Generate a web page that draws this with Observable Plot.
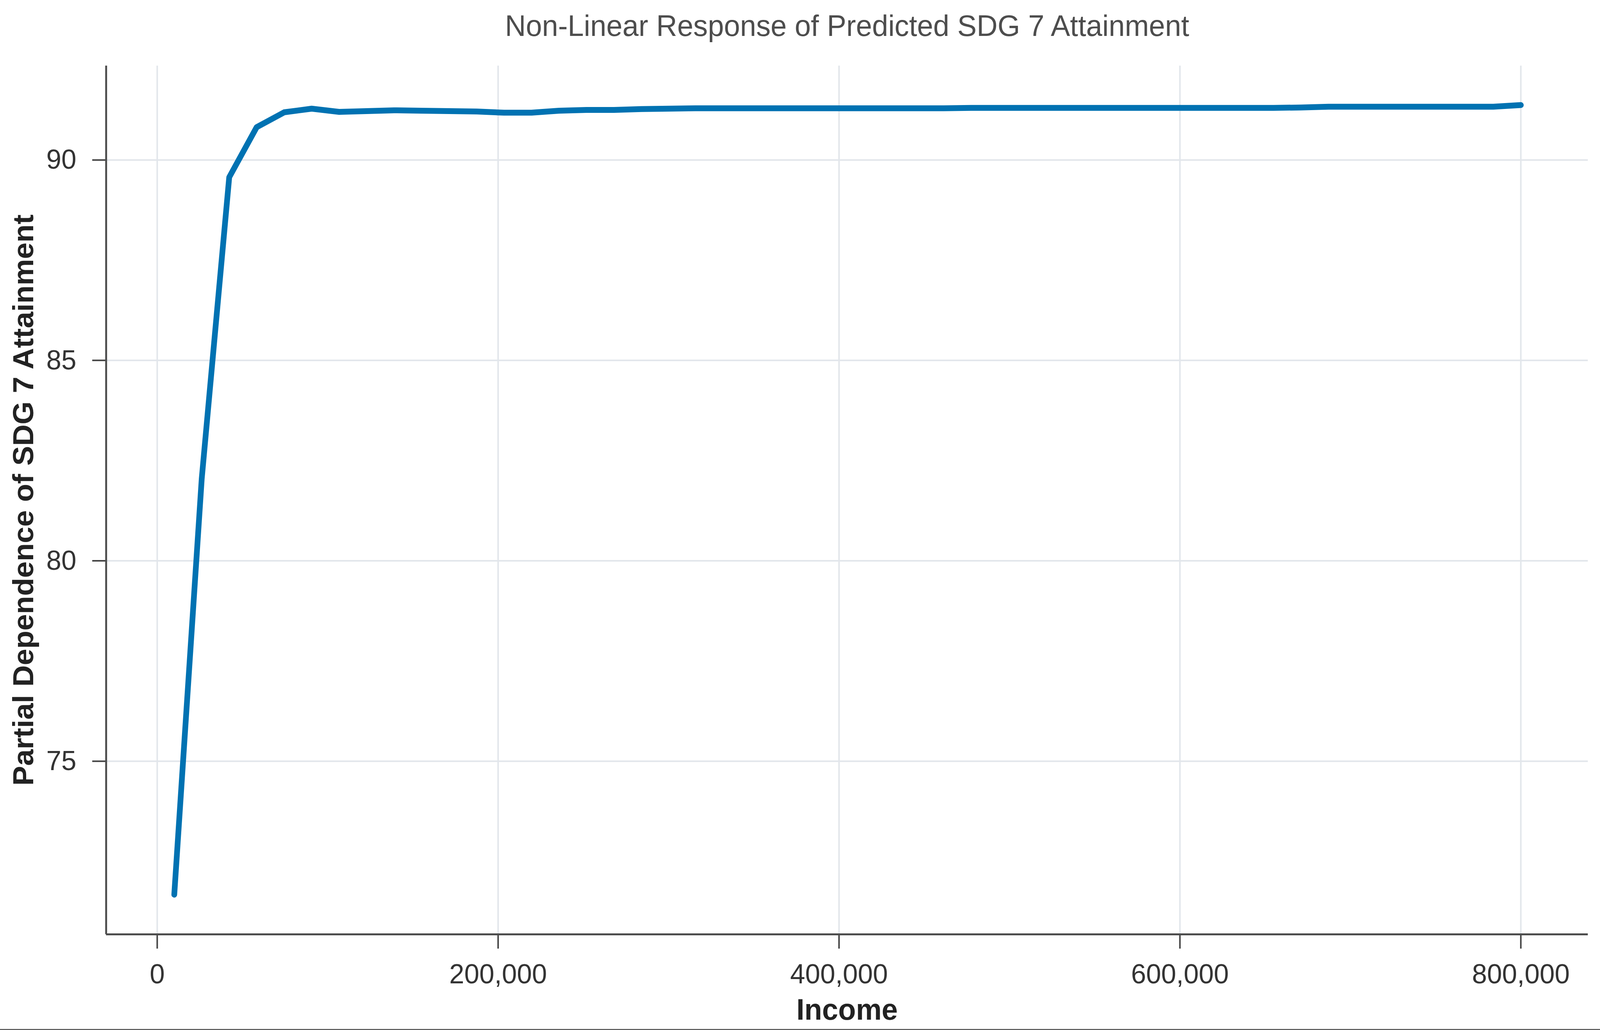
<!DOCTYPE html>
<html>
<head>
<meta charset="utf-8">
<script src="https://cdn.jsdelivr.net/npm/d3@7"></script>
<script src="https://cdn.jsdelivr.net/npm/@observablehq/plot@0.6"></script>
<style>
  html, body { margin: 0; padding: 0; background: #fff; overflow: hidden; width: 100vw; height: 100vh; }
  #chart { position: absolute; left: 0; top: 0; width: 100vw; height: 100vh; }
  #chart svg { display: block; }
  #bottomline { position: absolute; left: 0; bottom: calc(100vh * 3 / 2640); width: 100vw; height: calc(100vh * 2.5 / 2640); background: #222; }
</style>
</head>
<body>
<div id="chart"></div><div id="bottomline"></div>
<script>
const titleText = "Non-Linear Response of Predicted SDG 7 Attainment";
const xLabel = "Income";
const yLabel = "Partial Dependence of SDG 7 Attainment";

const income = [10000, 26122, 42245, 58367, 74490, 90612, 106735, 122857, 138980, 155102,
  171224, 187347, 203469, 219592, 235714, 251837, 267959, 284082, 300204, 316327,
  332449, 348571, 364694, 380816, 396939, 413061, 429184, 445306, 461429, 477551,
  493673, 509796, 525918, 542041, 558163, 574286, 590408, 606531, 622653, 638776,
  654898, 671020, 687143, 703265, 719388, 735510, 751633, 767755, 783878, 800000];

const attainment = [71.67, 82.05, 89.57, 90.82, 91.19, 91.28, 91.20, 91.22, 91.24, 91.23,
  91.22, 91.21, 91.18, 91.18, 91.23, 91.25, 91.25, 91.27, 91.28, 91.29,
  91.29, 91.29, 91.29, 91.29, 91.29, 91.29, 91.29, 91.29, 91.29, 91.30,
  91.30, 91.30, 91.30, 91.30, 91.30, 91.30, 91.30, 91.30, 91.30, 91.30,
  91.30, 91.31, 91.33, 91.33, 91.33, 91.33, 91.33, 91.33, 91.33, 91.37];

const xTicks = [0, 200000, 400000, 600000, 800000];
const yTicks = [75, 80, 85, 90];
const xDomain = [-29960, 839400];
const yDomain = [70.68, 92.35];

const data = income.map((x, i) => ({x, y: attainment[i]}));
const font = "'Liberation Sans', Arial, Helvetica, sans-serif";

// Design space of the reference image; the SVG is stretched to fill the viewport.
const W = 4198, H = 2640;
const chart = Plot.plot({
  width: W,
  height: H,
  marginTop: 168,
  marginBottom: 248,
  marginLeft: 278,
  marginRight: 32,
  style: {fontFamily: font, background: "#fff", overflow: "visible"},
  x: {domain: xDomain, ticks: xTicks},
  y: {domain: yDomain, ticks: yTicks},
  marks: [
    Plot.gridX(xTicks, {stroke: "#e2e6eb", strokeOpacity: 1, strokeWidth: 4}),
    Plot.gridY(yTicks, {stroke: "#e2e6eb", strokeOpacity: 1, strokeWidth: 4}),
    Plot.axisX(xTicks, {tickSize: 37, tickPadding: 38, tickFormat: d3.format(","), fontSize: 71, fill: "#333", stroke: "#444", strokeWidth: 4, label: null}),
    Plot.axisY(yTicks, {tickSize: 36, tickPadding: 42, tickFormat: d3.format("d"), fontSize: 71, fill: "#333", stroke: "#444", strokeWidth: 4, label: null}),
    Plot.ruleX([xDomain[0]], {stroke: "#4d4d4d", strokeWidth: 5}),
    Plot.ruleY([yDomain[0]], {stroke: "#4d4d4d", strokeWidth: 5}),
    Plot.line(data, {x: "x", y: "y", stroke: "#0072b2", strokeWidth: 15, strokeLinecap: "round", strokeLinejoin: "round"}),
    Plot.text([titleText], {frameAnchor: "top", dy: -101, fontSize: 76, fill: "#4d4d4d", textAnchor: "middle", lineAnchor: "middle"}),
    Plot.text([xLabel], {frameAnchor: "bottom", dy: 194, fontSize: 76, fontWeight: "bold", fill: "#222", textAnchor: "middle", lineAnchor: "middle"}),
    Plot.text([yLabel], {frameAnchor: "left", dx: -216, rotate: -90, fontSize: 76, fontWeight: "bold", fill: "#222", textAnchor: "middle", lineAnchor: "middle"})
  ]
});
chart.setAttribute("viewBox", `0 0 ${W} ${H}`);
chart.setAttribute("preserveAspectRatio", "none");
chart.style.maxWidth = "none";
chart.style.width = "100vw";
chart.style.height = "100vh";
document.getElementById("chart").appendChild(chart);
</script>
</body>
</html>
